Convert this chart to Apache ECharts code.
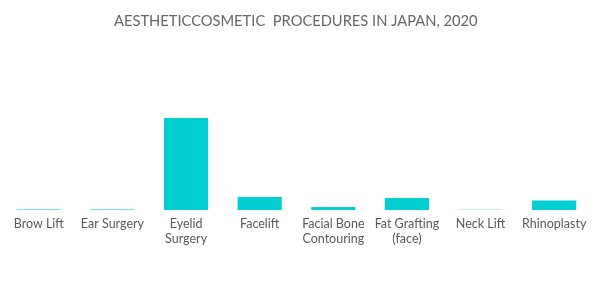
<!DOCTYPE html>
<html>
<head>
<meta charset="utf-8">
<script src="https://cdn.jsdelivr.net/npm/echarts@6/dist/echarts.min.js"></script>
<style>html,body{margin:0;padding:0;background:#fff}#c{width:600px;height:302px}</style>
</head>
<body>
<div id="c"></div>
<script>
const titleText = 'AESTHETICCOSMETIC  PROCEDURES IN JAPAN, 2020';
const categories = ['Brow Lift', 'Ear Surgery', 'Eyelid\nSurgery', 'Facelift', 'Facial Bone\nContouring', 'Fat Grafting\n(face)', 'Neck Lift', 'Rhinoplasty'];
const values = [0.5, 0.5, 92, 13, 3, 12, 0.3, 9.5];

const chart = echarts.init(document.getElementById('c'), null, {renderer: 'canvas'});
chart.setOption({
  animation: false,
  title: {
    text: titleText,
    left: 109,
    top: 9,
    textStyle: {fontFamily: 'Lato', fontWeight: 'normal', fontSize: 14.7, color: '#666'}
  },
  grid: {left: 2, right: 9, top: 118, bottom: 92, containLabel: false},
  xAxis: {
    type: 'category',
    data: categories,
    axisLine: {show: false},
    axisTick: {show: false},
    axisLabel: {interval: 0, color: '#595959', fontFamily: 'Lato', fontSize: 12.5, lineHeight: 15.5, margin: 6}
  },
  yAxis: {
    type: 'value', min: 0, max: 92,
    show: false,
    splitLine: {show: false}
  },
  series: [{
    type: 'bar',
    data: values,
    barWidth: '60%',
    itemStyle: {color: '#00CED1'}
  }]
});
</script>
</body>
</html>
